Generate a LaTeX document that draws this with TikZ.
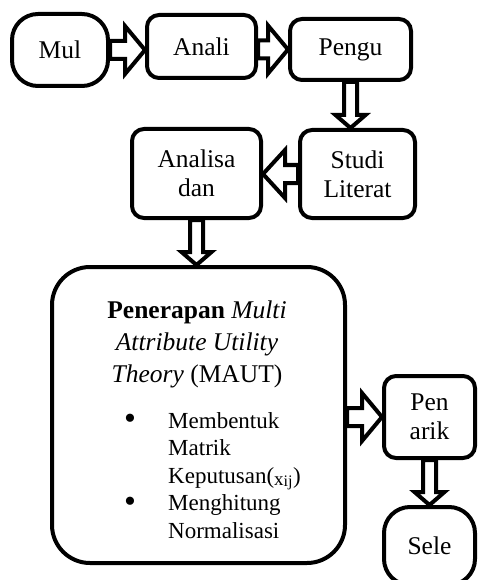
\documentclass[tikz,border=0pt]{standalone}
\usepackage{fontspec}
\setmainfont{Liberation Serif}
\usetikzlibrary{calc,backgrounds}
\begin{document}
\begin{tikzpicture}[x=1pt,y=-1pt,
	every node/.style={font=\fontsize{25.5}{29}\selectfont},
	kotak/.style={draw,line width=4pt,rounded corners=12pt,align=center,inner sep=0pt},
	ujung/.style={kotak,rounded corners=26pt},
	panah/.style={draw,line width=4pt,fill=white},
	kekanan/.style={panah,to path={($(\tikztostart)+(0,-9)$)--($(\tikztotarget)+(-20,-9)$)--($(\tikztotarget)+(-20,-24)$)--(\tikztotarget)--($(\tikztotarget)+(-20,24)$)--($(\tikztotarget)+(-20,9)$)--($(\tikztostart)+(0,9)$)--cycle}},
	kekiri/.style={panah,to path={($(\tikztostart)+(0,-9)$)--($(\tikztotarget)+(22,-9)$)--($(\tikztotarget)+(22,-24)$)--(\tikztotarget)--($(\tikztotarget)+(22,24)$)--($(\tikztotarget)+(22,9)$)--($(\tikztostart)+(0,9)$)--cycle}},
	kebawah/.style={panah,to path={($(\tikztostart)+(-6.5,0)$)--($(\tikztotarget)+(-6.5,-13)$)--($(\tikztotarget)+(-15,-13)$)--(\tikztotarget)--($(\tikztotarget)+(15,-13)$)--($(\tikztotarget)+(6.5,-13)$)--($(\tikztostart)+(6.5,0)$)--cycle}}]
	\useasboundingbox (0,0) rectangle (478,580);
	\clip (0,0) rectangle (478,580);
	\node[ujung,minimum width=96,minimum height=72] (mul) at (60,50) {Mul};
	\node[kotak,minimum width=109,minimum height=63] (anali) at (201.5,46.5) {Anali};
	\node[kotak,minimum width=121,minimum height=61] (pengu) at (350.5,49.5) {Pengu};
	\node[kotak,minimum width=115,minimum height=88] (studi) at (357.5,174) {Studi\\Literat};
	\node[kotak,minimum width=129,minimum height=89] (analisa) at (196.5,173.5) {Analisa\\dan};
	\node[kotak,rounded corners=38pt,minimum width=293,minimum height=296] (maut) at (198.5,415) {};
	\node[kotak,minimum width=91,minimum height=82] (pen) at (429.5,417) {Pen\\arik};
	\node[ujung,minimum width=91,minimum height=78] (sele) at (429.5,546) {Sele};
	% isi kotak MAUT
	\node[align=center,font=\fontsize{25.5}{32}\selectfont] (judul) at (197,344) {\textbf{Penerapan} \textit{Multi}\\\textit{Attribute Utility}\\\textit{Theory} (MAUT)};
	\node[font=\fontsize{34}{34}\selectfont] (b1) at (130,422) {\textbullet};
	\node[font=\fontsize{34}{34}\selectfont] (b2) at (130,505) {\textbullet};
	\node[anchor=north west,align=left,inner sep=0pt,font=\fontsize{23}{27.5}\selectfont] (daftar) at (168,412)
	{Membentuk\\Matrik\\Keputusan(\raisebox{-2pt}{\fontsize{19}{20}\selectfont x}\textsubscript{ij})\\Menghitung\\Normalisasi};
	\begin{scope}[on background layer]
		\draw[kekanan] (mul.east) to (mul.east -| anali.west);
		\draw[kekanan] (pengu.west -| anali.east) to (pengu.west);
		\draw[kebawah] (pengu.south) to (pengu.south |- studi.north);
		\draw[kekiri] (studi.west) to (studi.west -| analisa.east);
		\draw[kebawah] (analisa.south) to (analisa.south |- maut.north);
		\draw[kekanan] (pen.west -| maut.east) to (pen.west);
		\draw[kebawah] (pen.south) to (pen.south |- sele.north);
	\end{scope}
\end{tikzpicture}
\end{document}
